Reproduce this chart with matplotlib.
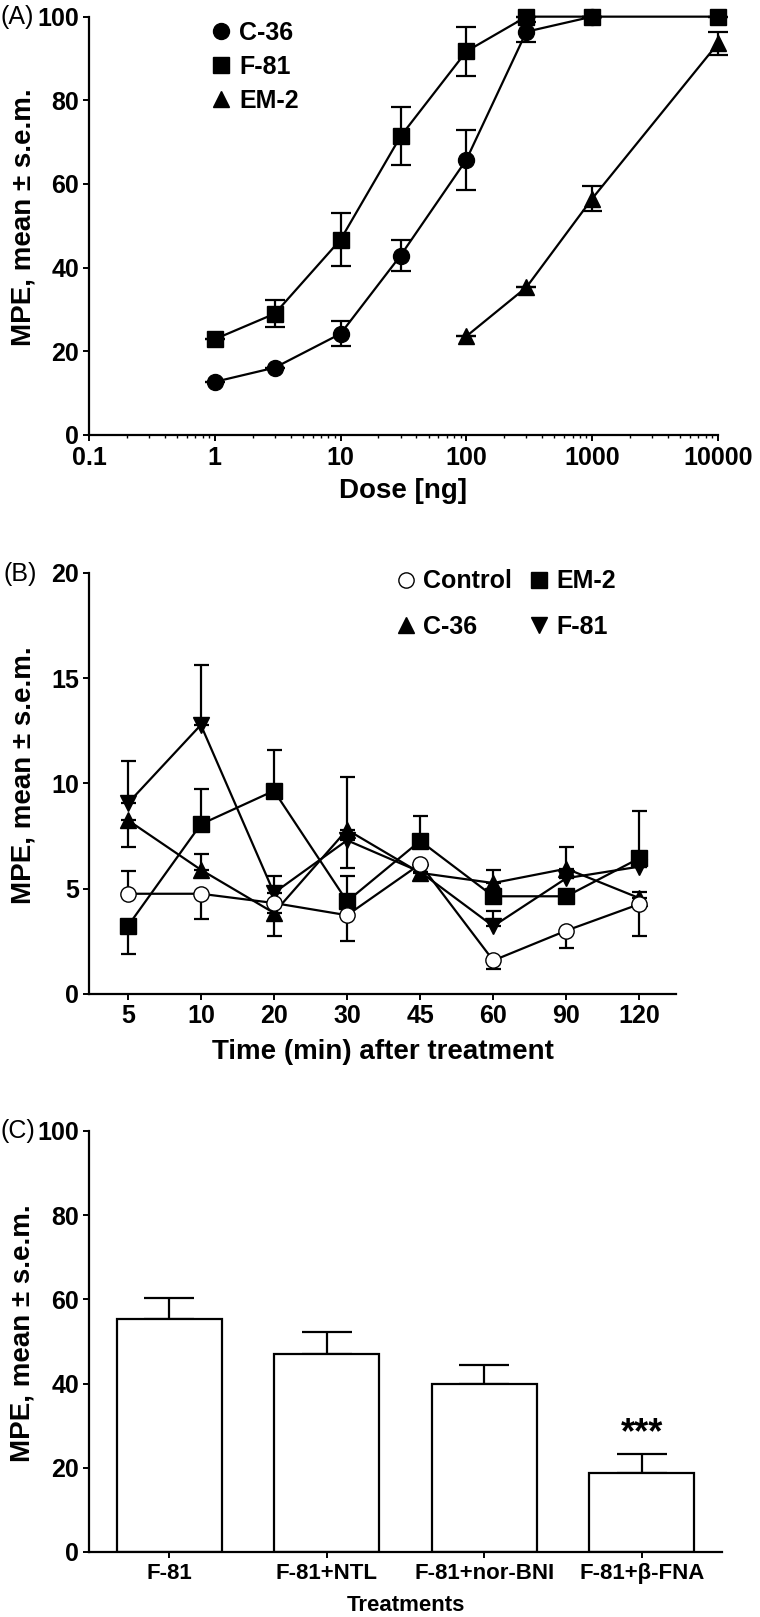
import matplotlib
matplotlib.use('Agg')
import matplotlib.pyplot as plt
from matplotlib.lines import Line2D
import numpy as np

plt.rcParams['font.family'] = ['Liberation Sans', 'DejaVu Sans']
plt.rcParams['font.weight'] = 'bold'

# ---- panel A: dose-response ----
dose_c36 = [1, 3, 10, 30, 100, 300, 1000]
mpe_c36 = [12.7, 16.1, 24.2, 42.9, 65.8, 96.4, 100]
sem_c36 = [0, 0, 3.0, 3.7, 7.2, 2.4, 0]
dose_f81 = [1, 3, 10, 30, 100, 300, 1000, 10000]
mpe_f81 = [22.9, 29.0, 46.7, 71.4, 91.7, 100, 100, 100]
sem_f81 = [0, 3.2, 6.4, 6.9, 5.8, 0, 0, 0]
dose_em2 = [100, 300, 1000, 10000]
mpe_em2 = [23.6, 35.3, 56.5, 93.6]
sem_em2 = [0, 0, 3.0, 2.7]
dose_ticks = [0.1, 1, 10, 100, 1000, 10000]
dose_labels = ['0.1', '1', '10', '100', '1000', '10000']

# ---- panel B: time course ----
times = ['5', '10', '20', '30', '45', '60', '90', '120']
ctrl = [4.76, 4.76, 4.32, 3.74, 6.17, 1.59, 3.01, 4.27]
ctrl_lo = [0, 1.2, 0, 1.23, 0, 0.4, 0.85, 1.53]
ctrl_hi = [1.1, 0, 0, 0, 0, 0, 0, 0]
em2 = [3.22, 8.06, 9.65, 4.4, 7.27, 4.64, 4.64, 6.45]
em2_lo = [1.3, 0, 0, 0, 0, 0, 0, 0]
em2_hi = [0, 1.67, 1.95, 1.2, 1.2, 0, 0, 2.24]
c36 = [8.26, 5.9, 3.85, 7.8, 5.75, 5.27, 5.95, 4.55]
c36_lo = [1.3, 0, 1.1, 1.8, 0.35, 0, 0, 0]
c36_hi = [0, 0.76, 0, 0, 0, 0.6, 1.05, 0.3]
f81 = [9.05, 12.78, 4.8, 7.3, 5.8, 3.22, 5.5, 6.05]
f81_lo = [0, 0, 0, 0, 0, 0, 0, 0]
f81_hi = [2.0, 2.85, 0.8, 3.0, 0, 0.74, 0, 0]

# ---- panel C: antagonists ----
treatments = ['F-81', 'F-81+NTL', 'F-81+nor-BNI', 'F-81+β-FNA']
mpe_treat = [55.3, 47.0, 39.9, 18.7]
sem_treat = [5.0, 5.2, 4.4, 4.5]

fig = plt.figure(figsize=(7.6, 16.17), dpi=100)
TICK = 18
LAB = 20
YLAB = 20
lw = 1.6

def style(ax):
    for s in ['top', 'right']:
        ax.spines[s].set_visible(False)
    for s in ['left', 'bottom']:
        ax.spines[s].set_linewidth(1.6)
    ax.tick_params(which='major', direction='out', length=4, width=1.4, labelsize=TICK, pad=3)
    for t in ax.get_xticklabels() + ax.get_yticklabels():
        t.set_fontweight('bold')

# (A)
axA = fig.add_axes([0.1171, 0.7310, 0.8276, 0.2587])
eb = dict(capsize=7, elinewidth=lw, capthick=lw, color='black', lw=lw, ms=11.5, clip_on=False, zorder=3)
axA.errorbar(dose_c36, mpe_c36, yerr=sem_c36, marker='o', **eb)
axA.errorbar(dose_f81, mpe_f81, yerr=sem_f81, marker='s', **eb)
axA.errorbar(dose_em2, mpe_em2, yerr=sem_em2, marker='^', **eb)
axA.set_xscale('log')
axA.set_xlim(0.1, 10000)
axA.set_ylim(0, 100)
axA.set_xticks(dose_ticks)
axA.set_xticklabels(dose_labels)
axA.set_yticks([0, 20, 40, 60, 80, 100])
style(axA)
axA.tick_params(which='minor', direction='out', length=2.5, width=1.0)
axA.tick_params(axis='x', pad=4)
axA.set_xlabel('Dose [ng]', fontsize=LAB, fontweight='bold', labelpad=6)
axA.set_ylabel('MPE, mean ± s.e.m.', fontsize=YLAB, fontweight='bold')
axA.yaxis.set_label_coords(-0.084, 0.52)
hA = [Line2D([], [], marker=m, color='black', ls='none', ms=11.5) for m in ['o', 's', '^']]
axA.legend(hA, ['C-36', 'F-81', 'EM-2'], loc='upper left', bbox_to_anchor=(0.151, 1.043),
           frameon=False, prop={'size': 18, 'weight': 'bold'}, handletextpad=0.1,
           labelspacing=0.39, handlelength=1.2)
fig.text(0.0, 0.9893, '(A)', fontsize=18, fontweight='normal', va='center', ha='left')

# (B)
axB = fig.add_axes([0.1171, 0.3853, 0.7724, 0.2604])
xpos = np.arange(len(times))
ebB = dict(capsize=5.4, elinewidth=lw, capthick=lw, color='black', lw=lw, ms=11, zorder=3)
axB.errorbar(xpos, c36, yerr=[c36_lo, c36_hi], marker='^', **ebB)
axB.errorbar(xpos, f81, yerr=[f81_lo, f81_hi], marker='v', **ebB)
axB.errorbar(xpos, em2, yerr=[em2_lo, em2_hi], marker='s', **ebB)
axB.errorbar(xpos, ctrl, yerr=[ctrl_lo, ctrl_hi], marker='o', mfc='white', **ebB)
axB.set_xlim(-0.53, len(times) - 0.5)
axB.set_ylim(0, 20)
axB.set_xticks(xpos)
axB.set_xticklabels(times)
axB.set_yticks([0, 5, 10, 15, 20])
style(axB)
axB.set_xlabel('Time (min) after treatment', fontsize=LAB, fontweight='bold', labelpad=8)
axB.set_ylabel('MPE, mean ± s.e.m.', fontsize=YLAB, fontweight='bold')
axB.yaxis.set_label_coords(-0.090, 0.52)
hB = [Line2D([], [], marker='o', mfc='white', color='black', ls='none', ms=11),
      Line2D([], [], marker='^', color='black', ls='none', ms=11),
      Line2D([], [], marker='s', color='black', ls='none', ms=11),
      Line2D([], [], marker='v', color='black', ls='none', ms=11)]
axB.legend(hB, ['Control', 'C-36', 'EM-2', 'F-81'], ncol=2, loc='upper left',
           bbox_to_anchor=(0.476, 1.062), frameon=False, prop={'size': 18, 'weight': 'bold'},
           handletextpad=0.1, labelspacing=0.87, handlelength=1.2, columnspacing=0.45)
fig.text(0.005, 0.6450, '(B)', fontsize=18, fontweight='normal', va='center', ha='left')

# (C)
axC = fig.add_axes([0.1171, 0.0402, 0.8329, 0.2604])
xc = np.arange(len(treatments))
axC.bar(xc, mpe_treat, width=0.667, color='white', edgecolor='black', linewidth=1.6, zorder=2)
axC.errorbar(xc, mpe_treat, yerr=[np.zeros(len(sem_treat)), sem_treat], fmt='none',
             ecolor='black', elinewidth=1.6, capsize=18, capthick=1.6, zorder=1)
axC.text(xc[3], 28, '***', ha='center', va='center', fontsize=26, fontweight='bold')
axC.set_xlim(-0.51, len(treatments) - 0.49)
axC.set_ylim(0, 100)
axC.set_xticks(xc)
axC.set_xticklabels(treatments)
axC.set_yticks([0, 20, 40, 60, 80, 100])
style(axC)
axC.tick_params(axis='x', labelsize=16, pad=4)
axC.set_xlabel('Treatments', fontsize=16, fontweight='bold', labelpad=8)
axC.set_ylabel('MPE, mean ± s.e.m.', fontsize=YLAB, fontweight='bold')
axC.yaxis.set_label_coords(-0.084, 0.52)
fig.text(0.0, 0.3005, '(C)', fontsize=18, fontweight='normal', va='center', ha='left')

plt.savefig('out.png', dpi=100)
plt.close()
